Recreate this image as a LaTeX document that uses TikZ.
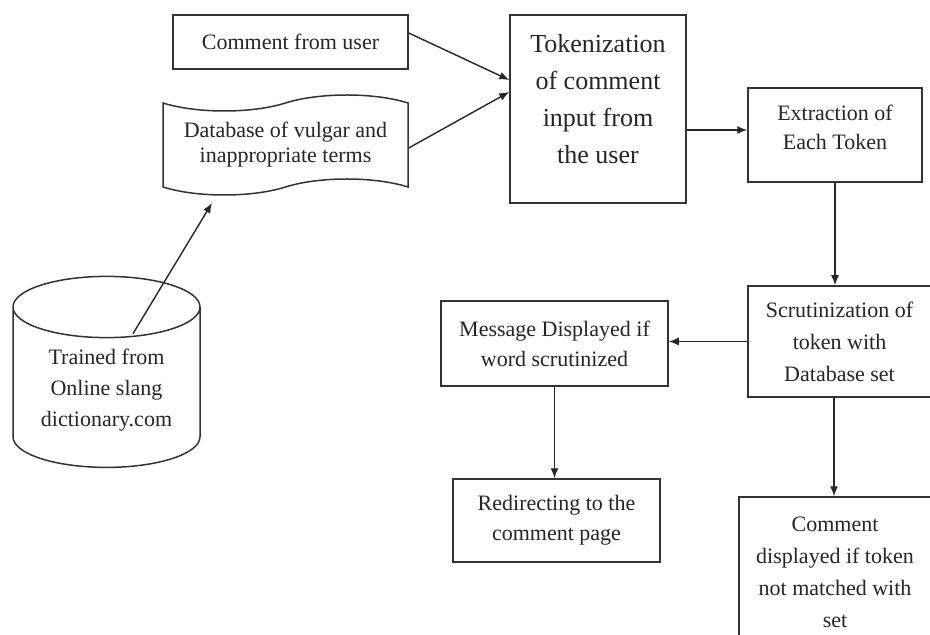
\documentclass[tikz,border=0pt]{standalone}
\usepackage{fontspec}
\setmainfont{Liberation Serif}
\usetikzlibrary{arrows.meta,calc,shapes.geometric,shapes.symbols}
\tikzset{
	box/.style={draw=black!80, line width=0.75pt, fill=white, align=center, inner sep=2pt, text=black!85, font=\fontsize{11}{15}\selectfont},
	arr/.style={draw=black!85, line width=0.7pt, -{Latex[length=5pt,width=4pt]}},
}
\begin{document}
\begin{tikzpicture}[x=0.5pt, y=-0.5pt]
		%%%%% START %%%%%
		\useasboundingbox (0,0) rectangle (930,635);
		
		\node[box, minimum width=117.5pt, minimum height=27pt] (cmt) at (290.5,42) {Comment from user};
		\node[box, tape, tape bend height=8pt, minimum width=122.5pt, minimum height=50pt, font=\fontsize{11}{12.5}\selectfont] (db) at (285.5,145) {Database of vulgar and\\inappropriate terms};
		\node[box, cylinder, shape border rotate=90, aspect=0.44, minimum width=93.5pt, minimum height=95.5pt, font=\fontsize{11}{15.5}\selectfont] (src) at (106.5,392) {Trained from\\Online slang\\dictionary.com\rule[-4pt]{0pt}{0pt}};
		
		\node[box, minimum width=88pt, minimum height=94pt, font=\fontsize{13}{18.5}\selectfont] (tok) at (598,109) {Tokenization\\of comment\\input from\\the user\rule[-10pt]{0pt}{0pt}};
		\node[box, minimum width=87pt, minimum height=47pt, font=\fontsize{11}{14.5}\selectfont] (ext) at (835,135) {Extraction of\\Each Token\rule[-8pt]{0pt}{0pt}};
		
		\node[box, minimum width=91.5pt, minimum height=55.5pt, font=\fontsize{11}{16}\selectfont] (scr) at (839.5,341.5) {Scrutinization of\\token with\\Database set};
		\node[box, minimum width=113.5pt, minimum height=42.5pt] (msg) at (554.5,343.5) {Message Displayed if\\word scrutinized};
		\node[box, minimum width=103.5pt, minimum height=41.5pt] (red) at (556.5,520.5) {Redirecting to the\\comment page};
		\node[box, minimum width=96pt, minimum height=75pt, font=\fontsize{11}{16}\selectfont] (cmd) at (835,572) {Comment\\displayed if token\\not matched with\\set};
		
		\coordinate (colx) at (834,0);
		
		\draw[arr] ($(cmt.east)+(0,-9)$) -- ($(tok.west)+(0,-29)$);
		\draw[arr] ($(db.east)+(0,3)$) -- ($(tok.west)+(0,-17)$);
		\draw[arr] ($(src.north)+(26.5,58)$) -- ($(db.center)+(-73.5,58)$);
		\draw[arr] ($(tok.east)+(0,21)$) -- ($(ext.west)+(0,-5)$);
		\draw[arr] (ext.south) -- (ext.south |- scr.north);
		\draw[arr] (scr.west) -- (msg.east |- scr.west);
		\draw[arr] (msg.south) -- (msg.south |- red.north);
		\draw[arr] (colx |- scr.south) -- (colx |- cmd.north);
		
		%%%%% END %%%%%
	\end{tikzpicture}
\end{document}
